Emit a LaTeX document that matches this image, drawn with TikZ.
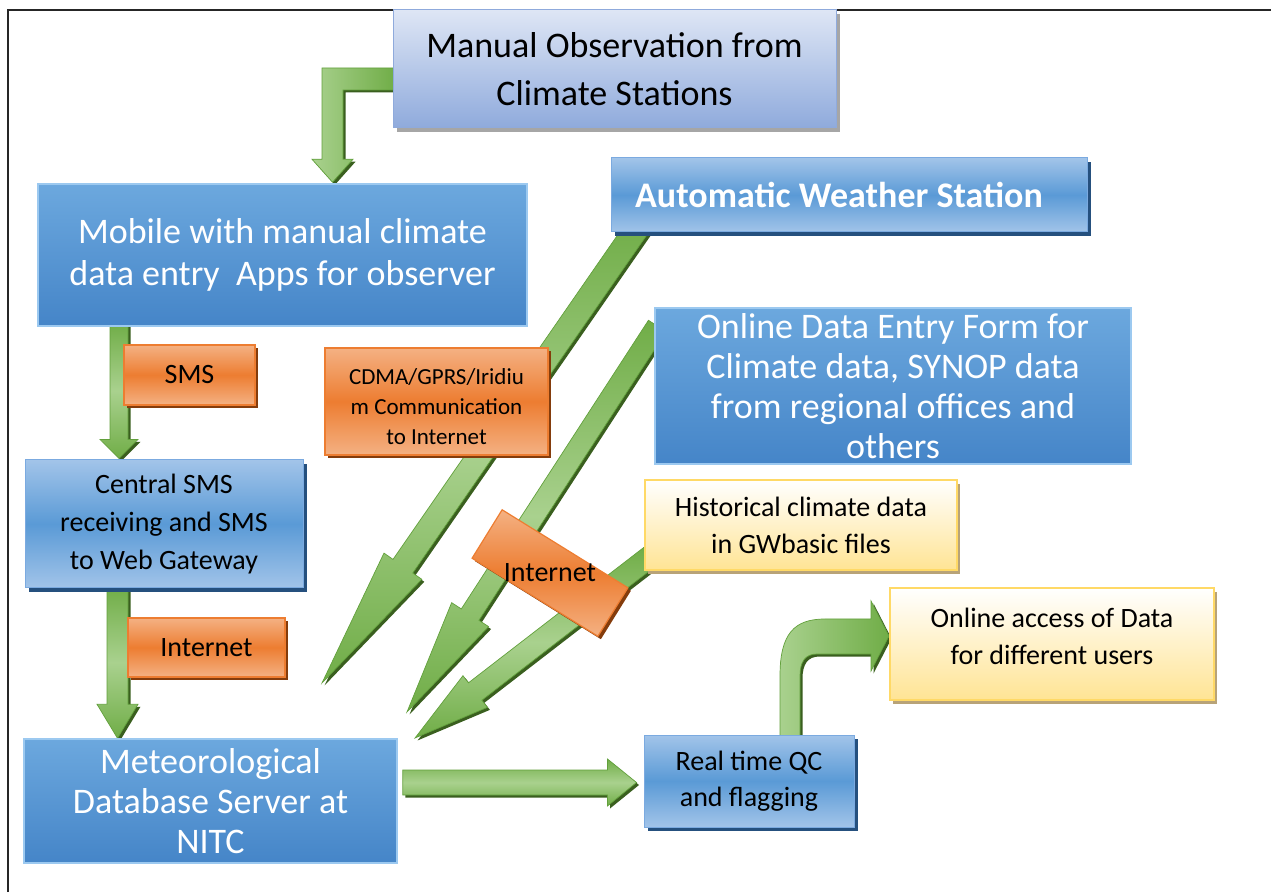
\documentclass[tikz,border=0pt]{standalone}
\usepackage{fontspec}
\setmainfont{Carlito}
\usetikzlibrary{calc,shadows,backgrounds}
\definecolor{dkTop}{HTML}{6CA8DE}
\definecolor{dkBot}{HTML}{4585C8}
\definecolor{dkEdge}{HTML}{9CC9F0}
\definecolor{ltOut}{HTML}{A2C4E9}
\definecolor{ltMid}{HTML}{5A9AD6}
\definecolor{ltEdge}{HTML}{7BAAE0}
\definecolor{ltShadow}{HTML}{25507E}
\definecolor{obsTop}{HTML}{DEE6F5}
\definecolor{obsBot}{HTML}{8FAADC}
\definecolor{obsEdge}{HTML}{8FAADC}
\definecolor{orOut}{HTML}{F4B183}
\definecolor{orMid}{HTML}{ED7D31}
\definecolor{orEdge}{HTML}{ED7D31}
\definecolor{orShadow}{HTML}{843C0C}
\definecolor{yBot}{HTML}{FFE494}
\definecolor{yEdge}{HTML}{FFD966}
\definecolor{yShadow}{HTML}{B8A378}
\definecolor{gLight}{HTML}{A9D18E}
\definecolor{gMid}{HTML}{70AD47}
\definecolor{gEdge}{HTML}{62A03C}
\definecolor{gShadow}{HTML}{3A5F1F}
\newdimen\bax \newdimen\bay \newdimen\bbx \newdimen\bby
% #1 from, #2 to, #3 half shaft, #4 half head, #5 head length
\newcommand\blockarrow[5]{%
  \pgfextractx{\bax}{\pgfpointanchor{#1}{center}}%
  \pgfextracty{\bay}{\pgfpointanchor{#1}{center}}%
  \pgfextractx{\bbx}{\pgfpointanchor{#2}{center}}%
  \pgfextracty{\bby}{\pgfpointanchor{#2}{center}}%
  \pgfmathsetmacro\barang{atan2(\bby-\bay,\bbx-\bax)}%
  \pgfmathsetmacro\barlen{veclen(\bbx-\bax,\bby-\bay)}%
  \pgfmathsetmacro\barneck{\barlen-#5}%
  \begin{scope}[shift={(\bax+2.5pt,\bay-2.5pt)},rotate=\barang]
    \fill[gShadow] (0,-#3) -- (\barneck,-#3) -- (\barneck,-#4) -- (\barlen,0) -- (\barneck,#4) -- (\barneck,#3) -- (0,#3) -- cycle;
  \end{scope}
  \begin{scope}[shift={(\bax,\bay)},rotate=\barang]
    \path[arrowbody] (0,-#3) -- (\barneck,-#3) -- (\barneck,-#4) -- (\barlen,0) -- (\barneck,#4) -- (\barneck,#3) -- (0,#3) -- cycle;
  \end{scope}}
\tikzset{
  darkbox/.style={draw=dkEdge, line width=1.5pt, top color=dkTop, bottom color=dkBot, text=white, align=center, inner sep=2pt},
  lightbox/.style={general shadow={fill=ltShadow, shadow xshift=4pt, shadow yshift=-4pt}, draw=ltEdge, line width=1pt, top color=ltOut, bottom color=ltOut, middle color=ltMid, align=center, inner sep=2pt},
  obsbox/.style={general shadow={fill=black!35, shadow xshift=4pt, shadow yshift=-4pt}, draw=obsEdge, line width=1pt, top color=obsTop, bottom color=obsBot, align=center, inner sep=2pt},
  orangebox/.style={general shadow={fill=orShadow, shadow xshift=3pt, shadow yshift=-3pt}, draw=orEdge, line width=1.2pt, top color=orOut, bottom color=orOut, middle color=orMid, align=center, inner sep=2pt},
  yellowbox/.style={general shadow={fill=yShadow, shadow xshift=3pt, shadow yshift=-4pt}, draw=yEdge, line width=2pt, top color=white, bottom color=yBot, align=center, inner sep=2pt},
  plaintext/.style={align=center, inner sep=0pt},
  arrowbody/.style={draw=gEdge, line width=0.7pt, top color=gMid, bottom color=gMid, middle color=gLight},
  bentarrow/.style={preaction={fill=gShadow, transform canvas={xshift=2.5pt,yshift=-2.5pt}}, draw=gEdge, line width=0.7pt, left color=gLight, right color=gMid},
  big/.style={font=\fontsize{36}{#1}\selectfont},
  mid/.style={font=\fontsize{28}{#1}\selectfont}
}
\begin{document}
\begin{tikzpicture}[x=1pt,y=1pt]
\useasboundingbox (0,0) rectangle (1271,892);
% nodes
\node[obsbox, minimum width=443pt, minimum height=118pt, big=48] (obs) at (614.5,823) {Manual Observation from\\Climate Stations};
\node[darkbox, minimum width=489pt, minimum height=142pt, big=42] (mobile) at (282.5,637) {Mobile with manual climate\\data entry~ Apps for observer};
\node[lightbox, minimum width=476pt, minimum height=74pt, font=\fontsize{36}{42}\selectfont\bfseries, text=white] (aws) at (849,697) {\hspace*{-20pt}Automatic Weather Station};
\node[darkbox, minimum width=476pt, minimum height=156pt, big=40] (online) at (893,506) {Online Data Entry Form for\\Climate data, SYNOP data\\from regional offices and\\others};
\node[lightbox, minimum width=278pt, minimum height=128pt, mid=38] (central) at (164,368) {Central SMS\\receiving and SMS\\to Web Gateway};
\node[orangebox, minimum width=131pt, minimum height=60pt, mid=34] (sms) at (189.5,517) {SMS};
\node[orangebox, minimum width=157pt, minimum height=59pt, mid=34] (inet1) at (206.5,244.5) {Internet};
\node[orangebox, minimum width=223pt, minimum height=107pt] (cdma) at (436.5,490.5) {};
\node[plaintext, font=\fontsize{23}{30}\selectfont] (cdmatext) at (436.5,485) {CDMA/GPRS/Iridiu\\m Communication\\to Internet};
\node[orangebox, rotate=-31.8, minimum width=148pt, minimum height=57pt] (inet2) at (550,319) {};
\node[plaintext, mid=34] (inet2text) at (inet2.center) {Internet};
\node[yellowbox, minimum width=312pt, minimum height=90pt, mid=37] (hist) at (801,367) {Historical climate data\\in GWbasic files};
\node[yellowbox, minimum width=324pt, minimum height=112pt] (access) at (1052,248) {};
\node[plaintext, mid=37] (accesstext) at (1052,256) {Online access of Data\\for different users};
\node[darkbox, minimum width=373pt, minimum height=124pt, big=40] (meteo) at (210.5,91) {Meteorological\\Database Server at\\NITC};
\node[lightbox, minimum width=210pt, minimum height=92pt, mid=36] (qc) at (749,111) {Real time QC\\and flagging};
% arrow end points
\coordinate (a2s) at ($(mobile.south)+(-163.5,4)$);
\coordinate (a2e) at ($(central.north)+(-45,1)$);
\coordinate (a3s) at ($(central.south)+(-46.5,2)$);
\coordinate (a3e) at ($(meteo.north)+(-93,0)$);
\coordinate (a4s) at ($(aws.south west)+(29,8)$);
\coordinate (a4e) at (322,209);
\coordinate (a5s) at ($(online.west)+(3,60)$);
\coordinate (a5e) at (407,180);
\coordinate (a6s) at ($(hist.west)+(8,-30)$);
\coordinate (a6e) at (415,154);
\coordinate (a7s) at ($(meteo.east)+(5,18.5)$);
\coordinate (a7e) at ($(qc.west)+(-7,-1.5)$);
\begin{pgfonlayer}{background}
\draw[line width=1.5pt, black!85] (8,0) -- (8,882) -- (1271,882);
% obs -> mobile (bent)
\path[bentarrow] let \p1=(obs.west), \p2=(mobile.north) in
  (\x1+3,\y1+1) -- (\x2+39.5,\y1+1) -- (\x2+39.5,\y2+24) -- (\x2+29.5,\y2+24) -- (\x2+50,\y2+1)
  -- (\x2+70.5,\y2+24) -- (\x2+60.5,\y2+24) -- (\x2+60.5,\y1-21) -- (\x1+3,\y1-21) -- cycle;
\blockarrow{a2s}{a2e}{9}{19}{19}
\blockarrow{a3s}{a3e}{10.5}{20.5}{34}
\blockarrow{a4s}{a4e}{12}{23}{142}
\blockarrow{a5s}{a5e}{10.5}{22}{116}
\blockarrow{a6s}{a6e}{11}{20}{76}
\blockarrow{a7s}{a7e}{12.5}{23.5}{29}
% qc -> access (bent up and right)
\path[bentarrow] let \p1=(qc.north), \p2=(access.west) in
  (\x1+31,\y1-2) -- (\x1+31,\y2-32) .. controls (\x1+31,\y2+10) and (\x1+45,\y2+25) .. (\x1+76,\y2+25)
  -- (\x2-18,\y2+25) -- (\x2-18,\y2+43) -- (\x2,\y2+8) -- (\x2-18,\y2-27) -- (\x2-18,\y2-10)
  -- (\x1+68,\y2-10) .. controls (\x1+56,\y2-10) and (\x1+51,\y2-18) .. (\x1+51,\y2-32) -- (\x1+51,\y1-2) -- cycle;
\end{pgfonlayer}
\end{tikzpicture}
\end{document}
